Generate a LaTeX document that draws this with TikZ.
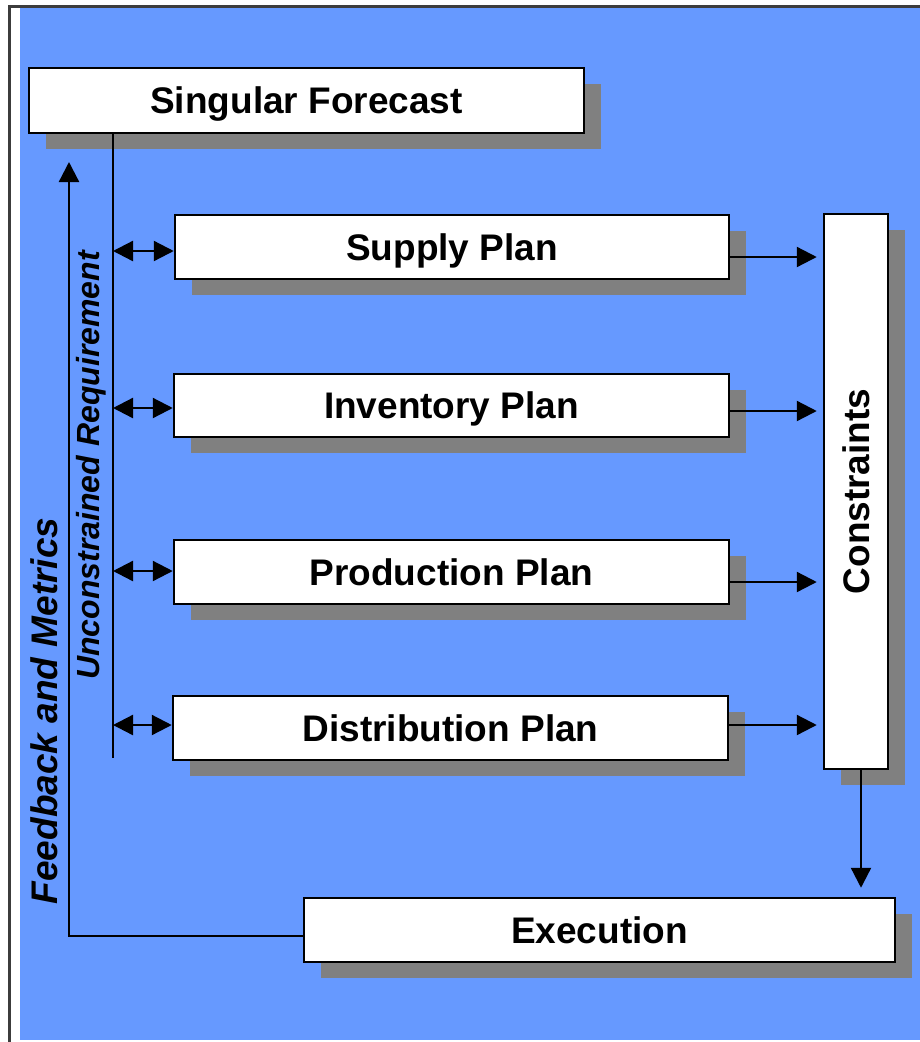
\documentclass[tikz,border=0pt]{standalone}
\usepackage{fontspec}
\setmainfont{Liberation Sans}
\usetikzlibrary{arrows.meta,shadows,calc}
\definecolor{bgblue}{RGB}{102,153,255}
\definecolor{shadowgray}{RGB}{128,128,128}
\definecolor{framegray}{RGB}{60,60,60}
\begin{document}
\begin{tikzpicture}[x=1pt,y=-1pt,
  box/.style={draw=black,line width=2.5pt,fill=white,inner sep=0pt,
    text height=26.5pt,text depth=0pt,
    font=\fontsize{37}{40}\selectfont\bfseries,
    drop shadow={shadow xshift=17pt,shadow yshift=-16pt,fill=shadowgray,opacity=1}},
  conn/.style={line width=2.3pt},
  arr/.style={conn,-{Triangle[length=20pt,width=20pt]}},
  dbl/.style={conn,{Triangle[length=20pt,width=20pt]}-{Triangle[length=20pt,width=20pt]}},
  sidelabel/.style={rotate=90,inner sep=0pt}]
\useasboundingbox (0,0) rectangle (920,1042);
\fill[bgblue] (20,8) rectangle (920,1040);
\draw[framegray,line width=3pt] (9,1042) -- (9,6) -- (920,6);

\node[box,minimum width=555pt,minimum height=65pt] (sf) at (306.5,100.5) {Singular Forecast};
\node[box,minimum width=554pt,minimum height=64pt] (sp) at (452,247) {Supply Plan};
\node[box,minimum width=555pt,minimum height=63pt] (ip) at (451.5,405.5) {Inventory Plan};
\node[box,minimum width=555pt,minimum height=64pt] (pp) at (451.5,572) {Production Plan};
\node[box,minimum width=555pt,minimum height=64pt] (dp) at (450.5,728) {Distribution Plan};
\node[box,text height=,text depth=,minimum width=64pt,minimum height=555pt] (con) at (856,491.5) {\rotatebox{90}{Constraints}};
\node[box,minimum width=591pt,minimum height=64pt] (ex) at (599.5,930) {Execution};

\node[sidelabel,font=\fontsize{37}{40}\selectfont\bfseries\itshape] (fm) at (44,711) {Feedback and Metrics};
\node[sidelabel,font=\fontsize{32}{36}\selectfont\bfseries\itshape] (ur) at (91,465.5) {Unconstrained Requirement};

\coordinate (vb) at (113,758);
\draw[conn] (sf.south -| vb) -- (vb);

\foreach \n/\l/\r in {sp/4/10, ip/2.5/5.5, pp/-1/10, dp/-3/-3} {
  \coordinate (\n-l) at ($(\n.west)+(0,\l)$);
  \coordinate (\n-r) at ($(\n.east)+(0,\r)$);
  \draw[dbl] (\n-l -| vb) -- (\n-l);
  \draw[arr,shorten >=6pt] (\n-r) -- (\n-r -| con.west);
}

\coordinate (cd) at ($(con.south)+(5,0)$);
\draw[arr,shorten >=9pt] (cd) -- (cd |- ex.north);

\coordinate (fb) at (69,162);
\coordinate (exl) at ($(ex.west)+(0,6)$);
\draw[arr] (exl) -| (fb);
\end{tikzpicture}
\end{document}
